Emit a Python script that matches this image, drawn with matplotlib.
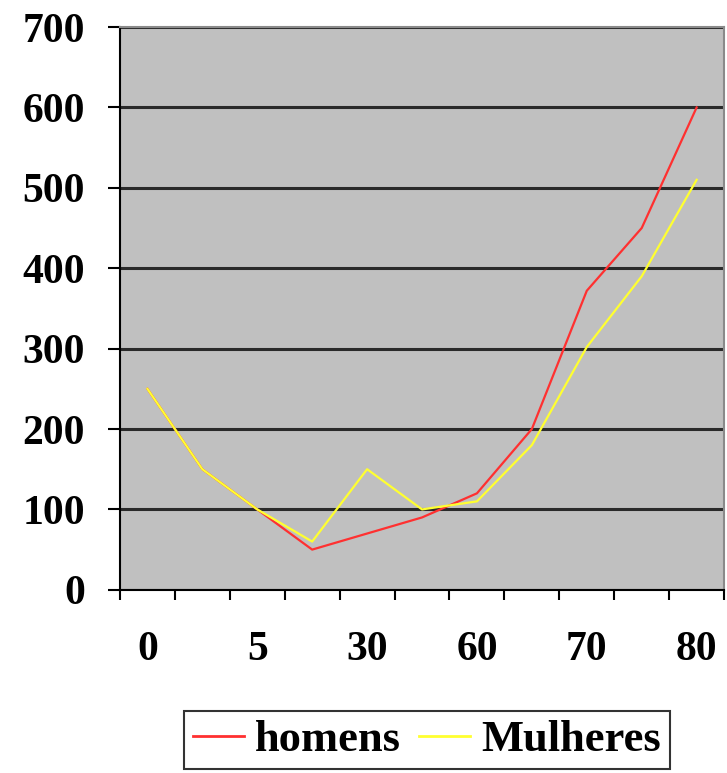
#!/usr/bin/env python3
"""
Line chart: homens vs Mulheres by age category.
Output: out.png (727x773)
"""

import matplotlib
matplotlib.use('Agg')
import matplotlib.pyplot as plt
import numpy as np

# Data
categories = ['0', '', '5', '', '30', '', '60', '', '70', '', '80']
homens = [250, 150, 100, 50, 70, 90, 120, 200, 372, 450, 600]
mulheres = [250, 150, 100, 60, 150, 100, 110, 180, 302, 390, 510]
y_ticks = [0, 100, 200, 300, 400, 500, 600, 700]

plt.rcParams['font.family'] = ['Liberation Serif', 'DejaVu Serif']
plt.rcParams['font.weight'] = 'bold'


def make_figure():
    fig = plt.figure(figsize=(7.27, 7.73), dpi=100)
    ax = fig.add_axes([0.165, 0.237, 0.831, 0.728])
    ax.set_facecolor('#C0C0C0')

    x = np.arange(len(categories))
    ax.plot(x, homens, color='#FF3030', lw=1.6, label='homens', zorder=3)
    ax.plot(x, mulheres, color='#FFFF30', lw=1.6, label='Mulheres', zorder=3)

    ax.set_xlim(-0.5, len(categories) - 0.5)
    ax.set_ylim(0, 700)

    # horizontal gridlines
    ax.set_yticks(y_ticks)
    ax.set_yticklabels([str(v) for v in y_ticks], fontsize=30, fontweight='bold')
    ax.yaxis.grid(True, color='#2a2a2a', lw=2.2)
    ax.set_axisbelow(True)
    ax.tick_params(axis='y', direction='out', length=9, width=1.5, pad=16)

    # category labels at centers, tick marks at boundaries
    ax.set_xticks(x)
    ax.set_xticklabels(categories, fontsize=30, fontweight='bold')
    ax.set_xticks(np.arange(-0.5, len(categories), 1.0), minor=True)
    ax.tick_params(axis='x', which='major', length=0, pad=30)
    ax.tick_params(axis='x', which='minor', direction='out', length=7, width=1.5)

    for side in ('left', 'bottom'):
        ax.spines[side].set_color('black')
        ax.spines[side].set_linewidth(1.5)
    for side in ('top', 'right'):
        ax.spines[side].set_color('#8a8a8a')
        ax.spines[side].set_linewidth(1.5)

    leg = fig.legend(loc='upper center', bbox_to_anchor=(0.587, 0.080),
                     ncol=2, frameon=True, fancybox=False, borderaxespad=0,
                     prop={'family': 'Liberation Serif', 'weight': 'bold', 'size': 32},
                     handlelength=1.15, handletextpad=0.25, columnspacing=0.4,
                     borderpad=0.2)
    leg.get_frame().set_edgecolor('black')
    leg.get_frame().set_linewidth(1.5)
    for line in leg.get_lines():
        line.set_linewidth(2)

    return fig


def main():
    fig = make_figure()
    fig.savefig('out.png', dpi=100, facecolor='white')
    plt.close(fig)


if __name__ == '__main__':
    main()
